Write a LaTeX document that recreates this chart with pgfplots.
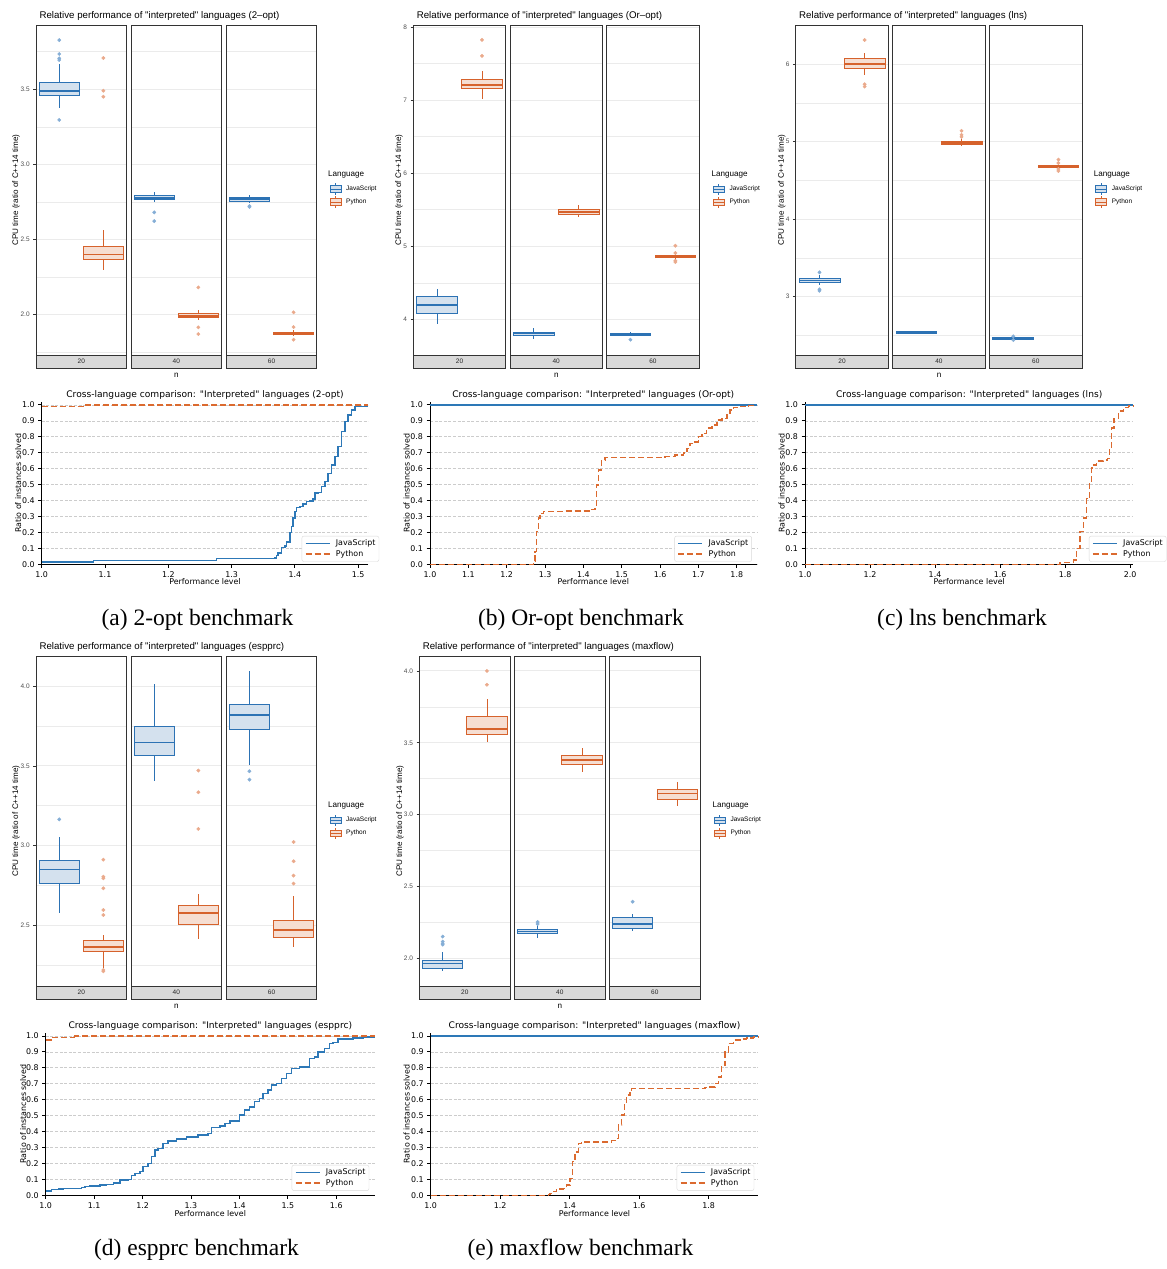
\documentclass[border=0pt]{standalone}
\usepackage{fontspec}
\setmainfont{Liberation Serif}
\newfontfamily\hv{Liberation Sans}
\newfontfamily\dv{DejaVu Sans}
\usepackage{pgfplots}
\pgfplotsset{compat=1.18}

\definecolor{jsc}{HTML}{2C72B4}
\definecolor{jsf}{HTML}{D4E1EE}
\definecolor{jso}{HTML}{85AED6}
\definecolor{pyc}{HTML}{D6622C}
\definecolor{pyf}{HTML}{F6DED2}
\definecolor{pyo}{HTML}{EAAA8C}
\definecolor{lnjs}{HTML}{2D78B7}
\definecolor{lnpy}{HTML}{DB6A2F}
\definecolor{bord}{HTML}{333333}
\definecolor{gridc}{HTML}{EBEBEB}
\definecolor{stripc}{HTML}{D9D9D9}
\definecolor{tickc}{HTML}{4D4D4D}

\newcommand\fs[1]{\fontsize{#1}{#1}\selectfont}

\pgfplotsset{
  jsdot/.style={only marks, mark=*, mark size=1.7pt, color=jso},
  pydot/.style={only marks, mark=*, mark size=1.7pt, color=pyo},
  bp/.style={anchor=north west, scale only axis, height=330pt, xmin=0, xmax=1, xtick=\empty, clip=false,
     axis line style={draw=bord, line width=0.9pt},
     ymajorgrids, yminorgrids,
     major grid style={draw=gridc, line width=1pt},
     minor grid style={draw=gridc, line width=0.6pt},
     ytick pos=left, tick align=outside, major tick length=2.8pt, minor tick length=0pt,
     tick style={draw=bord, line width=0.7pt},
     yticklabel style={font=\hv\fs{6.5}, text=tickc},
     /pgf/number format/assume math mode=true},
  nolab/.style={yticklabels={}, major tick length=0pt},
  one/.style={yticklabel style={/pgf/number format/.cd, fixed, fixed zerofill, precision=1}},
  sp/.style={anchor=south west, scale only axis, ymin=0, ymax=1.02, clip=false,
    axis x line*=bottom, axis y line*=left,
    axis line style={draw=black, line width=0.8pt, -},
    ytick={0,0.1,0.2,0.3,0.4,0.5,0.6,0.7,0.8,0.9,1},
    ymajorgrids, major grid style={draw=gray!40, line width=0.6pt, dash pattern=on 3pt off 1.6pt},
    tick align=outside, major tick length=3.5pt, tick style={draw=black, line width=0.8pt},
    ticklabel style={font=\dv\fs{7.9}},
    yticklabel style={/pgf/number format/.cd, fixed, fixed zerofill, precision=1},
    xticklabel style={/pgf/number format/.cd, fixed, fixed zerofill, precision=1},
    /pgf/number format/assume math mode=true,
    legend cell align=left,
    legend image code/.code={\draw[##1] (0pt,0pt) -- (24pt,0pt);},
    legend style={anchor=south west, draw=gray!30, rounded corners=2pt, fill=white, font=\dv\fs{7.9}, inner xsep=3pt, inner ysep=2pt, row sep=0pt, column sep=5pt, nodes={inner ysep=1.6pt, inner xsep=0.5pt}},
  },
  jsl/.style={const plot, color=lnjs, line width=1.5pt},
  pyl/.style={const plot, color=lnpy, line width=1.5pt, dash pattern=on 6pt off 3pt},
  jsflat/.style={color=lnjs, line width=1.5pt},
  pyflat/.style={color=lnpy, line width=1.5pt, dash pattern=on 6pt off 3pt},
}

% box: median, upper quartile, lower quartile, upper whisker, lower whisker
\newcommand\js[5]{%
  \addplot[jsc, line width=0.8pt] coordinates {(0.2565,#2)(0.2565,#4)};
  \addplot[jsc, line width=0.8pt] coordinates {(0.2565,#3)(0.2565,#5)};
  \addplot[draw=jsc, fill=jsf, line width=0.8pt] coordinates {(0.036,#3)(0.477,#3)(0.477,#2)(0.036,#2)} -- cycle;
  \addplot[jsc, line width=1.6pt] coordinates {(0.036,#1)(0.477,#1)};}
\newcommand\py[5]{%
  \addplot[pyc, line width=0.8pt] coordinates {(0.7435,#2)(0.7435,#4)};
  \addplot[pyc, line width=0.8pt] coordinates {(0.7435,#3)(0.7435,#5)};
  \addplot[draw=pyc, fill=pyf, line width=0.8pt] coordinates {(0.523,#3)(0.964,#3)(0.964,#2)(0.523,#2)} -- cycle;
  \addplot[pyc, line width=1.6pt] coordinates {(0.523,#1)(0.964,#1)};}
\newcommand\strip[1]{\draw[fill=stripc, draw=bord, line width=0.9pt] (rel axis cs:0,0) rectangle ([yshift=-13pt]rel axis cs:1,0);
  \node[font=\hv\fs{6.5}, text=black!85] at ([yshift=-6.5pt]rel axis cs:0.5,0) {#1};}
% legend key (decorative): x, y of key centre-left, line colour, fill colour, label
\newcommand\bkey[5]{\begin{scope}[shift={(#1pt,-#2pt)}]
  \draw[#3, line width=0.8pt] (5.5pt,3.3pt) -- (5.5pt,5.8pt) (5.5pt,-3.3pt) -- (5.5pt,-5.8pt);
  \draw[draw=#3, fill=#4, line width=0.8pt] (0pt,-3.3pt) rectangle (11pt,3.3pt);
  \draw[#3, line width=0.8pt] (0pt,0pt) -- (11pt,0pt);
  \node[anchor=west, inner sep=0pt, font=\hv\fs{6.5}, text=black] at (16pt,0pt) {#5};
  \end{scope}}
% legend: x, y of JS row, y of Python row, y of title
\newcommand\blegend[4]{\node[anchor=west, inner sep=0pt, font=\hv\fs{8.1}, text=black] at (#1pt-2pt,-#4pt) {Language};
  \bkey{#1}{#2}{jsc}{jsf}{JavaScript}\bkey{#1}{#3}{pyc}{pyf}{Python}}

\begin{document}
\begin{tikzpicture}
\useasboundingbox (0pt,0pt) rectangle (1167pt,-1269pt);

% ================= (a) 2-opt boxplots =================
\begin{axis}[bp, one, at={(36pt,-25pt)}, width=90.6pt, ymin=1.732, ymax=3.928, ytick={2,2.5,3,3.5}, minor ytick={1.75,2.25,2.75,3.25,3.75}]
\js{3.489}{3.547}{3.458}{3.666}{3.374}
\py{2.401}{2.452}{2.370}{2.561}{2.295}
\addplot[jsdot] coordinates {(0.2565,3.828)(0.2565,3.735)(0.2565,3.706)(0.2565,3.695)(0.2565,3.296)};
\addplot[pydot] coordinates {(0.7435,3.708)(0.7435,3.491)(0.7435,3.451)};
\strip{20}
\end{axis}
\begin{axis}[bp, nolab, at={(131pt,-25pt)}, width=90.6pt, ymin=1.732, ymax=3.928, ytick={2,2.5,3,3.5}, minor ytick={1.75,2.25,2.75,3.25,3.75}]
\js{2.778}{2.792}{2.765}{2.820}{2.749}
\py{1.993}{2.011}{1.980}{2.033}{1.962}
\addplot[jsdot] coordinates {(0.2565,2.681)(0.2565,2.623)};
\addplot[pydot] coordinates {(0.7435,2.182)(0.7435,1.916)(0.7435,1.871)};
\strip{40}
\end{axis}
\begin{axis}[bp, nolab, at={(226.2pt,-25pt)}, width=90.6pt, ymin=1.732, ymax=3.928, ytick={2,2.5,3,3.5}, minor ytick={1.75,2.25,2.75,3.25,3.75}]
\js{2.769}{2.780}{2.756}{2.798}{2.743}
\py{1.876}{1.885}{1.867}{1.900}{1.856}
\addplot[jsdot] coordinates {(0.2565,2.723)(0.2565,2.718)};
\addplot[pydot] coordinates {(0.7435,2.016)(0.7435,1.918)(0.7435,1.834)};
\strip{60}
\end{axis}

% ================= (b) Or-opt boxplots =================
\begin{axis}[bp, at={(413.3pt,-25pt)}, width=92.4pt, ymin=3.512, ymax=8.03, ytick={4,5,6,7,8}, minor ytick={4.5,5.5,6.5,7.5}]
\js{4.196}{4.310}{4.082}{4.415}{3.941}
\py{7.211}{7.279}{7.165}{7.403}{7.015}
\addplot[pydot] coordinates {(0.7435,7.827)(0.7435,7.608)};
\strip{20}
\end{axis}
\begin{axis}[bp, nolab, at={(510pt,-25pt)}, width=92.4pt, ymin=3.512, ymax=8.03, ytick={4,5,6,7,8}, minor ytick={4.5,5.5,6.5,7.5}]
\js{3.804}{3.827}{3.777}{3.881}{3.731}
\py{5.473}{5.501}{5.441}{5.564}{5.400}
\strip{40}
\end{axis}
\begin{axis}[bp, nolab, at={(606.7pt,-25pt)}, width=92.4pt, ymin=3.512, ymax=8.03, ytick={4,5,6,7,8}, minor ytick={4.5,5.5,6.5,7.5}]
\js{3.799}{3.813}{3.786}{3.831}{3.786}
\py{4.862}{4.880}{4.844}{4.917}{4.816}
\addplot[jsdot] coordinates {(0.2565,3.722)};
\addplot[pydot] coordinates {(0.7435,5.008)(0.7435,4.908)(0.7435,4.803)(0.7435,4.785)};
\strip{60}
\end{axis}

% ================= (c) lns boxplots =================
\begin{axis}[bp, at={(795.7pt,-25pt)}, width=92.7pt, ymin=2.248, ymax=6.507, ytick={3,4,5,6}, minor ytick={2.5,3.5,4.5,5.5,6.5}]
\js{3.211}{3.232}{3.189}{3.279}{3.155}
\py{6.0}{6.073}{5.944}{6.142}{5.858}
\addplot[jsdot] coordinates {(0.2565,3.314)(0.2565,3.095)(0.2565,3.077)};
\addplot[pydot] coordinates {(0.7435,6.314)(0.7435,5.742)(0.7435,5.712)};
\strip{20}
\end{axis}
\begin{axis}[bp, nolab, at={(892.6pt,-25pt)}, width=92.7pt, ymin=2.248, ymax=6.507, ytick={3,4,5,6}, minor ytick={2.5,3.5,4.5,5.5,6.5}]
\js{2.540}{2.549}{2.532}{2.557}{2.523}
\py{4.987}{5.004}{4.970}{5.039}{4.940}
\addplot[pydot] coordinates {(0.7435,5.142)(0.7435,5.090)(0.7435,5.064)};
\strip{40}
\end{axis}
\begin{axis}[bp, nolab, at={(989.5pt,-25pt)}, width=92.7pt, ymin=2.248, ymax=6.507, ytick={3,4,5,6}, minor ytick={2.5,3.5,4.5,5.5,6.5}]
\js{2.467}{2.480}{2.454}{2.497}{2.437}
\py{4.683}{4.692}{4.671}{4.722}{4.645}
\addplot[jsdot] coordinates {(0.2565,2.489)(0.2565,2.441)};
\addplot[pydot] coordinates {(0.7435,4.769)(0.7435,4.726)(0.7435,4.649)(0.7435,4.623)};
\strip{60}
\end{axis}

% ================= (d) espprc boxplots =================
\begin{axis}[bp, one, at={(36pt,-656pt)}, width=90.6pt, ymin=2.119, ymax=4.190, ytick={2.5,3,3.5,4}, minor ytick={2.25,2.75,3.25,3.75}]
\js{2.851}{2.910}{2.764}{3.052}{2.579}
\py{2.362}{2.408}{2.335}{2.441}{2.230}
\addplot[jsdot] coordinates {(0.2565,3.165)};
\addplot[pydot] coordinates {(0.7435,2.912)(0.7435,2.805)(0.7435,2.795)(0.7435,2.732)(0.7435,2.596)(0.7435,2.565)(0.7435,2.219)(0.7435,2.211)};
\strip{20}
\end{axis}
\begin{axis}[bp, nolab, at={(131pt,-656pt)}, width=90.6pt, ymin=2.119, ymax=4.190, ytick={2.5,3,3.5,4}, minor ytick={2.25,2.75,3.25,3.75}]
\js{3.646}{3.747}{3.567}{4.015}{3.408}
\py{2.577}{2.623}{2.508}{2.697}{2.414}
\addplot[pydot] coordinates {(0.7435,3.471)(0.7435,3.335)(0.7435,3.105)};
\strip{40}
\end{axis}
\begin{axis}[bp, nolab, at={(226.2pt,-656pt)}, width=90.6pt, ymin=2.119, ymax=4.190, ytick={2.5,3,3.5,4}, minor ytick={2.25,2.75,3.25,3.75}]
\js{3.820}{3.885}{3.732}{4.096}{3.508}
\py{2.469}{2.529}{2.427}{2.684}{2.362}
\addplot[jsdot] coordinates {(0.2565,3.467)(0.2565,3.414)};
\addplot[pydot] coordinates {(0.7435,3.023)(0.7435,2.902)(0.7435,2.812)(0.7435,2.762)};
\strip{60}
\end{axis}

% ================= (e) maxflow boxplots =================
\begin{axis}[bp, one, at={(419.3pt,-656pt)}, width=91pt, ymin=1.807, ymax=4.104, ytick={2,2.5,3,3.5,4}, minor ytick={2.25,2.75,3.25,3.75}]
\js{1.963}{1.986}{1.933}{2.046}{1.914}
\py{3.597}{3.683}{3.558}{3.804}{3.507}
\addplot[jsdot] coordinates {(0.2565,2.151)(0.2565,2.116)(0.2565,2.102)(0.2565,2.095)};
\addplot[pydot] coordinates {(0.7435,4.0)(0.7435,3.904)};
\strip{20}
\end{axis}
\begin{axis}[bp, nolab, at={(514.3pt,-656pt)}, width=91pt, ymin=1.807, ymax=4.104, ytick={2,2.5,3,3.5,4}, minor ytick={2.25,2.75,3.25,3.75}]
\js{2.186}{2.200}{2.172}{2.232}{2.139}
\py{3.382}{3.412}{3.349}{3.461}{3.298}
\addplot[jsdot] coordinates {(0.2565,2.253)(0.2565,2.239)};
\strip{40}
\end{axis}
\begin{axis}[bp, nolab, at={(609.3pt,-656pt)}, width=91pt, ymin=1.807, ymax=4.104, ytick={2,2.5,3,3.5,4}, minor ytick={2.25,2.75,3.25,3.75}]
\js{2.238}{2.285}{2.209}{2.309}{2.192}
\py{3.146}{3.174}{3.109}{3.226}{3.060}
\addplot[jsdot] coordinates {(0.2565,2.394)};
\strip{60}
\end{axis}

% ================= step charts =================
\begin{axis}[sp, at={(41.7pt,-564.3pt)}, width=326.6pt, height=162.6pt, xmin=1, xmax=1.516, xtick={1,1.1,1.2,1.3,1.4,1.5}, legend style={at={(axis description cs:0.796,0.016)}}]
\addplot[jsl] coordinates {(1,0.015)(1.0816,0.025)(1.276,0.035)(1.3684,0.04)(1.371,0.055)(1.3737,0.07)(1.3789,0.105)(1.3842,0.115)(1.3868,0.14)(1.3921,0.2)(1.3947,0.236)(1.3974,0.29)(1.4,0.33)(1.4026,0.356)(1.4079,0.362)(1.4132,0.377)(1.4184,0.393)(1.4237,0.397)(1.4289,0.41)(1.4316,0.446)(1.4368,0.452)(1.4421,0.487)(1.4474,0.519)(1.4526,0.571)(1.4579,0.623)(1.4632,0.676)(1.4684,0.738)(1.4737,0.833)(1.4789,0.895)(1.4842,0.937)(1.4895,0.969)(1.4947,0.99)(1.5132,0.994)(1.516,0.994)};
\addplot[pyl] coordinates {(1,0.99)(1.0658,1)(1.516,1)};
\legend{JavaScript,Python}
\end{axis}

\begin{axis}[sp, at={(430pt,-564.3pt)}, width=326.7pt, height=162.6pt, xmin=1, xmax=1.852, xtick={1,1.1,1.2,1.3,1.4,1.5,1.6,1.7,1.8}, legend style={at={(axis description cs:0.748,0.016)}}]
\addplot[jsl] coordinates {(1,1)(1.852,1)};
\addplot[pyl] coordinates {(1,0)(1.2696,0.02)(1.2739,0.08)(1.2783,0.205)(1.2826,0.289)(1.2870,0.32)(1.2957,0.33)(1.3522,0.335)(1.4174,0.345)(1.4304,0.351)(1.4348,0.498)(1.4391,0.592)(1.4478,0.655)(1.4565,0.669)(1.6130,0.676)(1.6391,0.686)(1.6609,0.697)(1.6696,0.728)(1.6783,0.759)(1.6913,0.766)(1.7,0.801)(1.7087,0.822)(1.7217,0.854)(1.7348,0.874)(1.7478,0.906)(1.7609,0.916)(1.7739,0.948)(1.7826,0.969)(1.7913,0.983)(1.8043,0.99)(1.8304,0.996)(1.852,0.996)};
\legend{JavaScript,Python}
\end{axis}

\begin{axis}[sp, at={(805pt,-564.3pt)}, width=328.3pt, height=162.6pt, xmin=1, xmax=2.01, xtick={1,1.2,1.4,1.6,1.8,2}, legend style={at={(axis description cs:0.865,0.016)}}]
\addplot[jsl] coordinates {(1,1)(2.01,1)};
\addplot[pyl] coordinates {(1,0)(1.7846,0.01)(1.8205,0.015)(1.8256,0.027)(1.8359,0.1)(1.8462,0.205)(1.8564,0.289)(1.8667,0.414)(1.8749,0.519)(1.8821,0.603)(1.8872,0.623)(1.8974,0.649)(1.9179,0.655)(1.9303,0.665)(1.9364,0.728)(1.9436,0.854)(1.9508,0.916)(1.9641,0.962)(1.9795,0.983)(1.9949,0.992)(2.01,0.992)};
\legend{JavaScript,Python}
\end{axis}

\begin{axis}[sp, at={(45.7pt,-1195.3pt)}, width=329.3pt, height=162.6pt, xmin=1, xmax=1.68, xtick={1,1.1,1.2,1.3,1.4,1.5,1.6}, legend style={at={(axis description cs:0.747,0.028)}}]
\addplot[jsl] coordinates {(1,0.027)(1.0124,0.035)(1.0261,0.04)(1.0364,0.044)(1.0742,0.048)(1.0811,0.056)(1.0914,0.06)(1.1120,0.065)(1.1258,0.069)(1.1395,0.077)(1.1533,0.096)(1.1704,0.1)(1.1773,0.123)(1.1842,0.138)(1.1945,0.148)(1.2014,0.18)(1.2117,0.2)(1.2186,0.242)(1.2254,0.284)(1.2323,0.294)(1.2426,0.326)(1.2529,0.34)(1.2701,0.353)(1.2907,0.365)(1.3148,0.378)(1.3354,0.388)(1.3423,0.424)(1.3595,0.436)(1.3698,0.451)(1.3801,0.466)(1.4007,0.503)(1.4110,0.534)(1.4213,0.555)(1.4316,0.587)(1.4419,0.608)(1.4488,0.639)(1.4591,0.66)(1.4660,0.691)(1.4763,0.701)(1.4866,0.733)(1.4969,0.764)(1.5072,0.795)(1.5244,0.806)(1.5450,0.858)(1.5553,0.868)(1.5622,0.9)(1.5759,0.921)(1.5863,0.952)(1.5931,0.958)(1.6034,0.979)(1.6344,0.987)(1.6550,0.994)(1.68,0.994)};
\addplot[pyl] coordinates {(1,0.975)(1.0124,0.99)(1.0605,0.99)};
\addplot[pyflat, forget plot] coordinates {(1.0605,0.99)(1.0605,1)(1.68,1)};
\legend{JavaScript,Python}
\end{axis}

\begin{axis}[sp, at={(430.7pt,-1195.3pt)}, width=327.6pt, height=162.6pt, xmin=1, xmax=1.943, xtick={1,1.2,1.4,1.6,1.8}, legend style={at={(axis description cs:0.751,0.028)}}]
\addplot[jsflat] coordinates {(1,1)(1.943,1)};
\addplot[pyl] coordinates {(1,0)(1.3386,0.005)(1.3434,0.0125)(1.3530,0.025)(1.3626,0.04)(1.3818,0.044)(1.3914,0.065)(1.4010,0.106)(1.4077,0.211)(1.4153,0.273)(1.4249,0.326)(1.4345,0.336)(1.5209,0.345)(1.5305,0.357)(1.5400,0.44)(1.5496,0.503)(1.5573,0.576)(1.5640,0.628)(1.5736,0.66)(1.5784,0.67)(1.7894,0.675)(1.8038,0.68)(1.8182,0.701)(1.8278,0.743)(1.8374,0.816)(1.8470,0.9)(1.8566,0.952)(1.8710,0.973)(1.8950,0.979)(1.9094,0.987)(1.9285,0.994)(1.943,0.994)};
\legend{JavaScript,Python}
\end{axis}

% ================= boxplot legends =================
\blegend{330}{189}{202}{175}
\blegend{713.3}{189.3}{202.3}{175}
\blegend{1095.7}{189}{202}{175}
\blegend{330}{820.3}{833.3}{806}
\blegend{714.3}{820.3}{833.3}{806}

% ================= text: boxplot titles, labels =================
\begin{scope}[every node/.style={font=\hv\fs{9.7}, text=black}]
\node[anchor=west] at (36pt,-16pt) {Relative performance of "interpreted" languages (2–opt)};
\node[anchor=west] at (413.3pt,-16pt) {Relative performance of "interpreted" languages (Or–opt)};
\node[anchor=west] at (795.7pt,-16pt) {Relative performance of "interpreted" languages (lns)};
\node[anchor=west] at (36pt,-646.7pt) {Relative performance of "interpreted" languages (espprc)};
\node[anchor=west] at (419.3pt,-646.7pt) {Relative performance of "interpreted" languages (maxflow)};
\end{scope}
\begin{scope}[every node/.style={font=\hv\fs{8.1}, text=black}]
\node[rotate=90] at (16pt,-190pt) {CPU time (ratio of C++14 time)};
\node[rotate=90] at (399pt,-190pt) {CPU time (ratio of C++14 time)};
\node[rotate=90] at (781.7pt,-190pt) {CPU time (ratio of C++14 time)};
\node[rotate=90] at (16pt,-821pt) {CPU time (ratio of C++14 time)};
\node[rotate=90] at (400pt,-821pt) {CPU time (ratio of C++14 time)};
\node at (176.4pt,-375pt) {n};
\node at (556.3pt,-375pt) {n};
\node at (939pt,-375pt) {n};
\node at (176.4pt,-1006pt) {n};
\node at (559.8pt,-1006pt) {n};
\end{scope}

% ================= text: step chart titles and labels =================
\begin{scope}[every node/.style={font=\dv\fs{9.1}, text=black}]
\node at (205pt,-395pt) {Cross-language comparison: "Interpreted" languages (2-opt)};
\node at (593.3pt,-395pt) {Cross-language comparison: "Interpreted" languages (Or-opt)};
\node at (969.2pt,-395pt) {Cross-language comparison: "Interpreted" languages (lns)};
\node at (210.3pt,-1025.7pt) {Cross-language comparison: "Interpreted" languages (espprc)};
\node at (594.5pt,-1025.7pt) {Cross-language comparison: "Interpreted" languages (maxflow)};
\end{scope}
\begin{scope}[every node/.style={font=\dv\fs{7.9}, text=black}]
\node at (205pt,-581.7pt) {Performance level};
\node at (593.3pt,-581.7pt) {Performance level};
\node at (969.2pt,-581.7pt) {Performance level};
\node at (210.3pt,-1213.3pt) {Performance level};
\node at (594.5pt,-1213.3pt) {Performance level};
\node[rotate=90] at (18.3pt,-483.3pt) {Ratio of instances solved};
\node[rotate=90] at (406.7pt,-483.3pt) {Ratio of instances solved};
\node[rotate=90] at (781.7pt,-483.3pt) {Ratio of instances solved};
\node[rotate=90] at (23.3pt,-1114pt) {Ratio of instances solved};
\node[rotate=90] at (406.7pt,-1114pt) {Ratio of instances solved};
\end{scope}

% ================= captions =================
\begin{scope}[every node/.style={font=\fs{23.5}, text=black}]
\node at (197.5pt,-620pt) {(a) 2-opt benchmark};
\node at (581pt,-620pt) {(b) Or-opt benchmark};
\node at (962pt,-620pt) {(c) lns benchmark};
\node at (196.5pt,-1250pt) {(d) espprc benchmark};
\node at (580.5pt,-1250pt) {(e) maxflow benchmark};
\end{scope}
\end{tikzpicture}
\end{document}
